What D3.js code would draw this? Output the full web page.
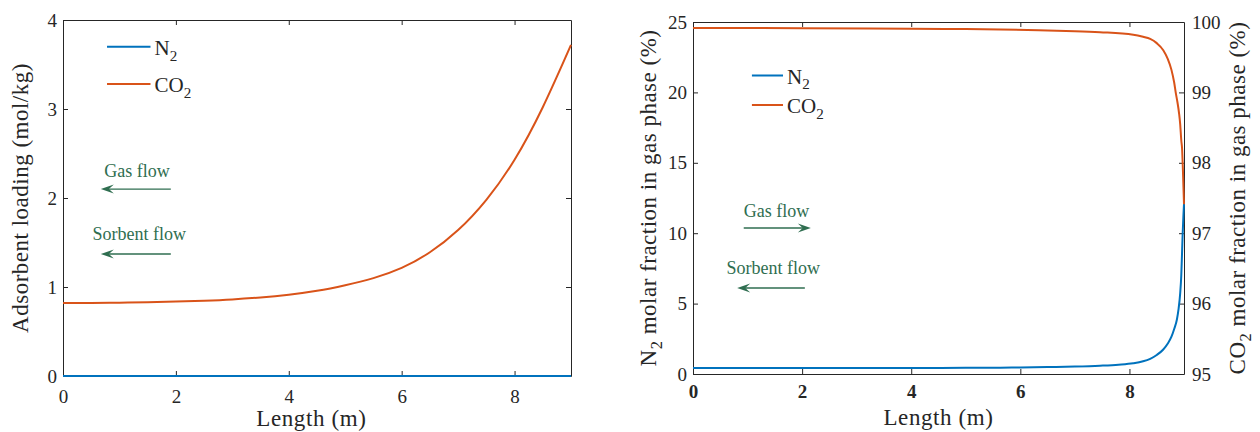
<!DOCTYPE html>
<html>
<head>
<meta charset="utf-8">
<script src="https://cdn.jsdelivr.net/npm/d3@7"></script>
<style>
  body { margin: 0; background: #fff; }
  svg text { font-family: "Liberation Serif", "DejaVu Serif", serif; fill: #262626; }
</style>
</head>
<body>
<svg id="fig" width="1260" height="432"></svg>
<script>
// ---------- data ----------
// Adsorbent loading along the column (mol/kg)
const lengthLoad = [0, 0.5, 1, 1.5, 2, 2.5, 3, 3.5, 4, 4.5, 5, 5.5, 6, 6.5, 7, 7.5, 8, 8.5, 9];
const co2Loading = [0.82, 0.821, 0.824, 0.829, 0.836, 0.846, 0.86, 0.882, 0.913, 0.957, 1.02, 1.1, 1.215, 1.39, 1.64, 1.98, 2.43, 3.02, 3.72];
const n2Loading  = [0.001, 0.001, 0.001, 0.001, 0.001, 0.001, 0.001, 0.001, 0.001, 0.001, 0.001, 0.001, 0.001, 0.001, 0.001, 0.001, 0.001, 0.001, 0.001];

// Gas-phase molar fractions (%)
const lengthN2 = [0, 1, 2, 3, 4, 5, 5.63, 6, 6.5, 7, 7.46, 7.8, 8.07, 8.25, 8.38, 8.5, 8.62, 8.7, 8.77, 8.82, 8.87, 8.9, 8.93, 8.95, 8.96, 8.976, 8.99, 9];
const n2Fraction = [0.42, 0.42, 0.42, 0.43, 0.43, 0.44, 0.45, 0.46, 0.49, 0.53, 0.59, 0.66, 0.76, 0.9, 1.08, 1.35, 1.74, 2.15, 2.65, 3.2, 3.87, 4.6, 5.73, 7.0, 8.1, 10.0, 11.3, 12.07];

const lengthCO2 = [0, 2, 4, 5, 5.63, 6.5, 7, 7.46, 8.07, 8.25, 8.38, 8.5, 8.62, 8.7, 8.77, 8.82, 8.85, 8.88, 8.91, 8.93, 8.95, 8.965, 8.98, 9];
const co2Fraction = [99.915, 99.912, 99.905, 99.9, 99.895, 99.88, 99.87, 99.855, 99.82, 99.79, 99.76, 99.7, 99.6, 99.48, 99.32, 99.14, 98.99, 98.86, 98.7, 98.55, 98.32, 98.2, 97.9, 97.41];

// ticks and labels
const lengthTicks = [0, 2, 4, 6, 8];
const loadingTicks = [0, 1, 2, 3, 4];
const n2Ticks = [0, 5, 10, 15, 20, 25];
const co2Ticks = [95, 96, 97, 98, 99, 100];
const species = [{ base: "N", sub: "2" }, { base: "CO", sub: "2" }];
const flowLabels = ["Gas flow", "Sorbent flow"];

// ---------- styling ----------
const colN2 = "#0072BD";
const colCO2 = "#D95319";
const axisCol = "#262626";
const noteCol = "#2f6e50";
const tickFont = 19;
const labelFont = 23;

const svg = d3.select("#fig");
svg.append("rect").attr("width", 1260).attr("height", 432).attr("fill", "#fff");

// ---------- scales ----------
const xL = d3.scaleLinear().domain([0, 9]).range([63, 571]);
const yL = d3.scaleLinear().domain([0, 4]).range([376, 20]);
const xR = d3.scaleLinear().domain([0, 9]).range([693, 1184]);
const yRl = d3.scaleLinear().domain([0, 25]).range([374, 22]);
const yRr = d3.scaleLinear().domain([95, 100]).range([374, 22]);

function styleAxis(g, bold) {
  g.attr("color", axisCol).attr("font-family", null).attr("font-size", null);
  g.selectAll("text").style("font-size", tickFont + "px").style("font-weight", bold ? "bold" : "normal");
  g.selectAll("path.domain").attr("stroke-width", 1);
  g.selectAll(".tick line").attr("stroke-width", 1);
}

// Box with inward ticks; the right side is either a mirror or a second y axis
function drawAxes(x, y, opts) {
  const [xa, xb] = x.range();
  const [yb, ya] = y.range();
  const fmt = d3.format("d");

  const bottom = svg.append("g").attr("transform", `translate(0,${yb})`)
    .call(d3.axisBottom(x).tickValues(lengthTicks).tickFormat(fmt)
      .tickSizeInner(-5).tickSizeOuter(0).tickPadding(opts.xPad));
  styleAxis(bottom, opts.boldX);

  const top = svg.append("g").attr("transform", `translate(0,${ya})`)
    .call(d3.axisTop(x).tickValues(lengthTicks).tickFormat("")
      .tickSizeInner(-5).tickSizeOuter(0));
  styleAxis(top, false);

  const left = svg.append("g").attr("transform", `translate(${xa},0)`)
    .call(d3.axisLeft(y).tickValues(opts.yTicks).tickFormat(fmt)
      .tickSizeInner(-5).tickSizeOuter(0).tickPadding(6));
  styleAxis(left, false);

  const rightAxis = d3.axisRight(opts.y2 || y).tickValues(opts.y2 ? opts.y2Ticks : opts.yTicks)
    .tickSizeInner(-5).tickSizeOuter(0).tickPadding(8)
    .tickFormat(opts.y2 ? fmt : "");
  const right = svg.append("g").attr("transform", `translate(${xb},0)`).call(rightAxis);
  styleAxis(right, false);
}

function subText(sel, base, sub, size) {
  sel.append("tspan").text(base);
  sel.append("tspan").attr("dy", size * 0.28).style("font-size", (size * 0.72) + "px").text(sub);
}

function rotatedLabel(xPos, yCenter, build) {
  const t = svg.append("text")
    .attr("transform", `translate(${xPos},${yCenter}) rotate(-90)`)
    .attr("text-anchor", "middle")
    .style("font-size", labelFont + "px")
    .style("letter-spacing", "0.5px");
  build(t);
}

function xLabel(xCenter, yBase) {
  svg.append("text").attr("x", xCenter).attr("y", yBase)
    .attr("text-anchor", "middle")
    .style("font-size", labelFont + "px").style("letter-spacing", "0.6px")
    .text("Length (m)");
}

function legend(x0, x1, yRows, size) {
  const cols = [colN2, colCO2];
  species.forEach((s, i) => {
    svg.append("line").attr("x1", x0).attr("x2", x1).attr("y1", yRows[i]).attr("y2", yRows[i])
      .attr("stroke", cols[i]).attr("stroke-width", 2);
    const t = svg.append("text").attr("x", x1 + 4).attr("y", yRows[i] + 8)
      .style("font-size", size + "px");
    subText(t, s.base, s.sub, size);
  });
}

// Annotation arrow with a swept head at the (x2, y) end
function flowArrow(x1, x2, y) {
  const dir = x2 > x1 ? 1 : -1;
  const L = 13, W = 9;
  svg.append("line").attr("x1", x1).attr("x2", x2 - dir * 6).attr("y1", y).attr("y2", y)
    .attr("stroke", noteCol).attr("stroke-width", 1.4);
  const p = d3.path();
  p.moveTo(x2, y);
  p.lineTo(x2 - dir * L, y - W / 2);
  p.lineTo(x2 - dir * L * 0.62, y);
  p.lineTo(x2 - dir * L, y + W / 2);
  p.closePath();
  svg.append("path").attr("d", p.toString()).attr("fill", noteCol);
}

function flowNote(x, y, label) {
  svg.append("text").attr("x", x).attr("y", y).attr("text-anchor", "middle")
    .style("font-size", "18px").style("fill", noteCol).text(label);
}

function series(xs, ys, x, y, color, curve) {
  const line = d3.line().curve(curve);
  svg.append("path")
    .attr("d", line(xs.map((d, i) => [x(d), y(ys[i])])))
    .attr("fill", "none").attr("stroke", color).attr("stroke-width", 2);
}

// ---------- left panel: adsorbent loading ----------
drawAxes(xL, yL, { yTicks: loadingTicks, xPad: 14, boldX: false });
series(lengthLoad, n2Loading, xL, yL, colN2, d3.curveLinear);
series(lengthLoad, co2Loading, xL, yL, colCO2, d3.curveNatural);

xLabel(xL(4.4), 426);
rotatedLabel(28, yL(2), t => t.text("Adsorbent loading (mol/kg)"));
legend(xL(0.78), xL(1.55), [yL(3.7), yL(3.28)], 21);

// flow direction notes (data units)
flowNote(xL(1.31), yL(2.24), flowLabels[0]);
flowArrow(xL(1.91), xL(0.67), yL(2.1));
flowNote(xL(1.35), yL(1.53), flowLabels[1]);
flowArrow(xL(1.91), xL(0.67), yL(1.37));

// ---------- right panel: gas-phase molar fractions ----------
drawAxes(xR, yRl, { yTicks: n2Ticks, xPad: 11, boldX: true, y2: yRr, y2Ticks: co2Ticks });
series(lengthN2, n2Fraction, xR, yRl, colN2, d3.curveMonotoneX);
series(lengthCO2, co2Fraction, xR, yRr, colCO2, d3.curveMonotoneX);

xLabel(xR(4.5), 425);
rotatedLabel(656, yRl(12.5), t => {
  subText(t, "N", "2", labelFont);
  t.append("tspan").attr("dy", -labelFont * 0.28).text(" molar fraction in gas phase (%)");
});
rotatedLabel(1245, yRl(12.5), t => {
  subText(t, "CO", "2", labelFont);
  t.append("tspan").attr("dy", -labelFont * 0.28).text(" molar fraction in gas phase (%)");
});
legend(xR(1.08), xR(1.65), [yRl(21.2), yRl(19.1)], 21);

flowNote(xR(1.53), yRl(11.15), flowLabels[0]);
flowArrow(xR(0.93), xR(2.16), yRl(10.37));
flowNote(xR(1.47), yRl(7.1), flowLabels[1]);
flowArrow(xR(2.05), xR(0.81), yRl(6.11));
</script>
</body>
</html>
